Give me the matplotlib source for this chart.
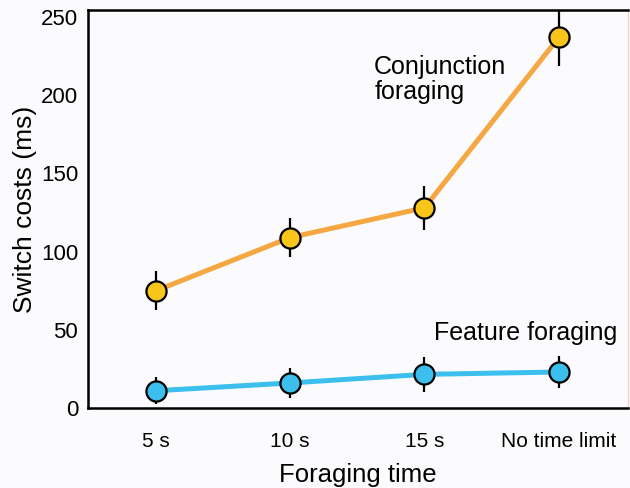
import matplotlib
matplotlib.use("Agg")
import matplotlib.pyplot as plt

categories = ["5 s", "10 s", "15 s", "No time limit"]
conj_values = [75, 109, 128, 237]
conj_err = [12.5, 12.5, 14, 18]
feat_values = [11, 16, 21.5, 23]
feat_err = [8.5, 9.5, 11, 10.5]

plt.rcParams['font.family'] = ['Liberation Sans', 'DejaVu Sans']

fig = plt.figure(figsize=(6.3, 4.88), dpi=100, facecolor='#fbfbfd')
ax = fig.add_axes([0.1397, 0.164, 0.857, 0.8155])
ax.set_facecolor('#fbfbfd')

x = list(range(len(categories)))

ax.errorbar(x, conj_values, yerr=conj_err, fmt='none', ecolor='black', elinewidth=1.6, capsize=0, zorder=2, clip_on=True)
ax.plot(x, conj_values, color='#f5a742', lw=3.6, zorder=3, solid_capstyle='butt')
ax.plot(x, conj_values, 'o', ms=14.5, mfc='#f8c61a', mec='black', mew=1.6, zorder=4, clip_on=False)

ax.errorbar(x, feat_values, yerr=feat_err, fmt='none', ecolor='black', elinewidth=1.6, capsize=0, zorder=2)
ax.plot(x, feat_values, color='#3cbfec', lw=3.6, zorder=3)
ax.plot(x, feat_values, 'o', ms=14.5, mfc='#3cbfec', mec='black', mew=1.6, zorder=4)

ax.set_xlim(-0.506, 3.515)
ax.set_ylim(0, 254.5)
ax.set_yticks([0, 50, 100, 150, 200, 250])
ax.set_xticks(x)
ax.set_xticklabels(categories)
ax.tick_params(axis='both', length=0, colors='black')
ax.tick_params(axis='y', pad=7, labelsize=16)
ax.tick_params(axis='x', pad=17, labelsize=15)

for s in ['left', 'top', 'bottom']:
    ax.spines[s].set_linewidth(1.8)
    ax.spines[s].set_color('black')
ax.spines['right'].set_color('#f0d2c8')
ax.spines['right'].set_linewidth(1.0)

ax.set_xlabel("Foraging time", fontsize=18.5, labelpad=9)
ax.set_ylabel("Switch costs (ms)", fontsize=19, labelpad=3)

ax.text(1.625, 210, "Conjunction\nforaging", fontsize=18, ha='left', va='center', linespacing=1.05)
ax.text(2.07, 48, "Feature foraging", fontsize=18, ha='left', va='center')

fig.savefig("out.png", dpi=100, facecolor=fig.get_facecolor())
